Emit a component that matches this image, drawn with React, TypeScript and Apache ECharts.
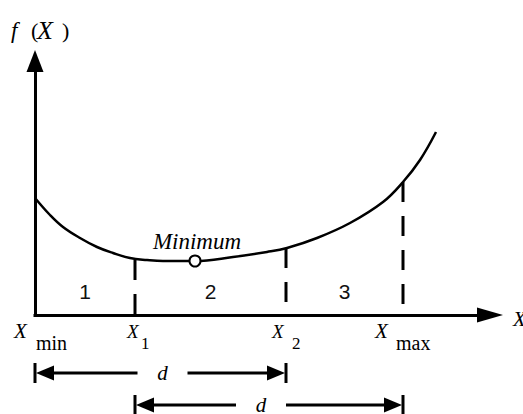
import { useEffect, useRef } from "react";
import * as echarts from "echarts";

// f(x) sampled along the search interval (axis units, x measured from Xmin)
const curveX = [0, 15, 28, 45, 62, 78, 95, 112, 128, 160, 198, 232, 252, 282, 315, 348, 368, 385, 401];
const curveY = [117, 100, 88, 77, 68, 62, 57, 55, 54, 54, 58, 63, 67, 77, 92, 113, 133, 155, 183];

// Minimum of f(x)
const minimumPoint = [160, 54];
const minimumLabel = "Minimum";

// Points on the x axis: Xmin, X1, X2, Xmax
const boundaryX = [0, 100, 251, 368];
// Height where each dashed guide (X1, X2, Xmax) starts
const guideTops = [55, 67, 133];

// Sub-interval numbers, placed mid-way between neighbouring boundaries
const regionLabels = ["1", "2", "3"];
const regionLabelY = 24;

// Tick labels under the axis
const tickMain = ["X", "X", "X", "X"];
const tickSub = ["min", "1", "2", "max"];

// Interval widths drawn under the axis, as [from, to] indices into boundaryX
const spans = [
  [0, 2],
  [1, 3],
];
const spanLabel = "d";

// Axis titles
const yTitle = ["f", "(", "X", ")"];
const xTitle = "X";

const axisMaxX = 455;
const axisMaxY = 254;

const SERIF = "'Liberation Serif', 'Times New Roman', Times, 'DejaVu Serif', serif";
const SANS = "'Liberation Sans', Arial, Helvetica, sans-serif";
const INK = "#000";

// Per-label offsets for tick texts (relative to the tick position)
const tickLayout = [
  { mainDx: -21, subDx: 1, mainSize: 21, subSize: 20 },
  { mainDx: -8, subDx: 6, mainSize: 19, subSize: 17 },
  { mainDx: -14, subDx: 6, mainSize: 19, subSize: 17 },
  { mainDx: -28, subDx: -7, mainSize: 21, subSize: 20 },
];

const spanRowsY = [373, 405];
const spanGapShift = [2, -8];

function txt(
  x: number,
  y: number,
  s: string,
  size: number,
  italic: boolean,
  align = "left"
) {
  return {
    type: "text",
    x,
    y,
    silent: true,
    style: {
      text: s,
      fontFamily: SERIF,
      fontSize: size,
      fontStyle: italic ? "italic" : "normal",
      fill: INK,
      align,
      verticalAlign: "middle",
    },
  };
}

export default function App() {
  const ref = useRef<HTMLDivElement>(null);

  useEffect(() => {
    if (!ref.current) return;
    const chart = echarts.init(ref.current, null, { renderer: "svg" });

    const axisLine = (size: number[]) => ({
      show: true,
      symbol: ["none", "triangle"],
      symbolSize: size,
      lineStyle: { color: INK, width: 3, cap: "square" },
    });

    const guideSeries = boundaryX.slice(1).map((x, i) => ({
      type: "line",
      data: [
        [x, guideTops[i]],
        [x, 0],
      ],
      symbol: "none",
      silent: true,
      lineStyle: { color: INK, width: 3, type: [20, 14], cap: "butt" },
      z: 3,
    }));

    const regionData = regionLabels.map((name, i) => ({
      name,
      value: [(boundaryX[i] + boundaryX[i + 1]) / 2, regionLabelY],
    }));

    chart.setOption({
      animation: false,
      backgroundColor: "#fff",
      grid: { left: 35, right: 33, top: 61, bottom: 99 },
      xAxis: {
        type: "value",
        min: 0,
        max: axisMaxX,
        axisLine: axisLine([15, 26]),
        axisTick: { show: false },
        axisLabel: { show: false },
        splitLine: { show: false },
      },
      yAxis: {
        type: "value",
        min: 0,
        max: axisMaxY,
        axisLine: axisLine([17, 22]),
        axisTick: { show: false },
        axisLabel: { show: false },
        splitLine: { show: false },
      },
      series: [
        {
          type: "line",
          data: curveX.map((x, i) => [x, curveY[i]]),
          smooth: 0.4,
          symbol: "none",
          silent: true,
          lineStyle: { color: INK, width: 2.5 },
          z: 4,
        },
        ...guideSeries,
        {
          type: "scatter",
          data: [minimumPoint],
          symbol: "circle",
          symbolSize: 11,
          silent: true,
          itemStyle: { color: "#fff", borderColor: INK, borderWidth: 2, opacity: 1 },
          label: {
            show: true,
            formatter: minimumLabel,
            position: "inside",
            offset: [2, -20],
            fontFamily: SERIF,
            fontStyle: "italic",
            fontSize: 23,
            color: INK,
          },
          z: 6,
        },
        {
          type: "scatter",
          data: regionData,
          symbolSize: 1,
          silent: true,
          itemStyle: { color: "rgba(0,0,0,0)", opacity: 1 },
          label: {
            show: true,
            formatter: "{b}",
            position: "inside",
            fontFamily: SANS,
            fontSize: 21,
            color: "#111",
          },
          z: 5,
        },
      ],
    });

    const toPx = (x: number, y: number) =>
      chart.convertToPixel({ gridIndex: 0 }, [x, y]) as number[];

    const graphics: any[] = [];

    // Axis titles
    const top = toPx(0, axisMaxY);
    const titleY = top[1] - 31;
    const yTitleDx = [-24, -4, 2, 27];
    const yTitleSize = [23, 22, 26, 22];
    yTitle.forEach((s, i) => {
      const italic = s === "f" || s === "X";
      graphics.push(txt(top[0] + yTitleDx[i], titleY, s, yTitleSize[i], italic));
    });
    const right = toPx(axisMaxX, 0);
    graphics.push(txt(right[0] + 23, right[1] + 4, xTitle, 21, true));

    // Tick labels
    boundaryX.forEach((x, i) => {
      const p = toPx(x, 0);
      const lay = tickLayout[i];
      graphics.push(txt(p[0] + lay.mainDx, p[1] + 16, tickMain[i], lay.mainSize, true));
      graphics.push(txt(p[0] + lay.subDx, p[1] + 28, tickSub[i], lay.subSize, false));
    });

    // Interval width markers
    spans.forEach(([a, b], row) => {
      const x0 = toPx(boundaryX[a], 0)[0];
      const x1 = toPx(boundaryX[b], 0)[0];
      const y = spanRowsY[row];
      const mid = (x0 + x1) / 2 + spanGapShift[row];
      const gap = 25;
      const head = 18;
      const stroke = { stroke: INK, lineWidth: 3 };
      graphics.push(
        { type: "line", silent: true, shape: { x1: x0, y1: y - 10, x2: x0, y2: y + 10 }, style: stroke },
        { type: "line", silent: true, shape: { x1: x1, y1: y - 10, x2: x1, y2: y + 10 }, style: stroke },
        { type: "line", silent: true, shape: { x1: x0 + head, y1: y, x2: mid - gap, y2: y }, style: stroke },
        { type: "line", silent: true, shape: { x1: mid + gap, y1: y, x2: x1 - head, y2: y }, style: stroke },
        {
          type: "polygon",
          silent: true,
          shape: { points: [[x0 + 1, y], [x0 + head + 1, y - 7.5], [x0 + head + 1, y + 7.5]] },
          style: { fill: INK },
        },
        {
          type: "polygon",
          silent: true,
          shape: { points: [[x1 - 1, y], [x1 - head - 1, y - 7.5], [x1 - head - 1, y + 7.5]] },
          style: { fill: INK },
        },
        txt(mid, y, spanLabel, 21, true, "center")
      );
    });

    chart.setOption({ graphic: { elements: graphics } });

    return () => chart.dispose();
  }, []);

  return (
    <div
      ref={ref}
      style={{ position: "fixed", left: 0, top: 0, width: 523, height: 414, background: "#fff" }}
    />
  );
}
